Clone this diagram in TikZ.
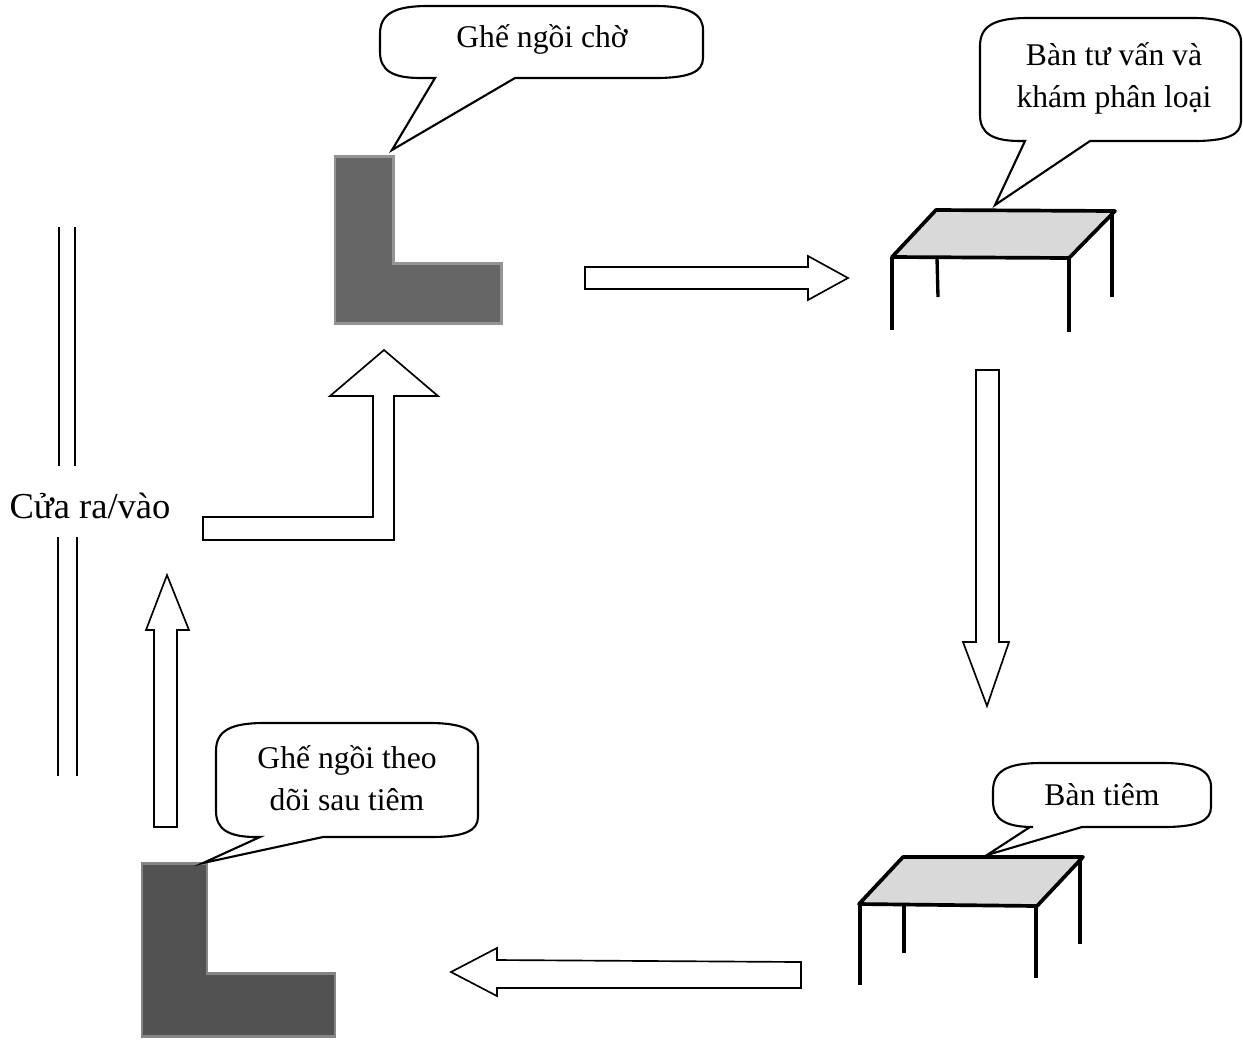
\documentclass[tikz,border=0pt]{standalone}
\usepackage{fontspec}
\setmainfont{Liberation Serif}

% L,T,R,B of the bubble, then left foot, tip x, tip y, right foot
\newcommand{\bubble}[8]{
  \draw[callout] (#1,#2+28) .. controls (#1,#2+8) and (#1+14,#2) .. (#1+48,#2)
    -- (#3-48,#2) .. controls (#3-14,#2) and (#3,#2+8) .. (#3,#2+24)
    -- (#3,#4-20) .. controls (#3,#4-6) and (#3-14,#4) .. (#3-48,#4)
    -- (#8,#4) -- (#6,#7) -- (#5,#4)
    -- (#1+40,#4) .. controls (#1+12,#4) and (#1,#4-8) .. (#1,#4-26) -- cycle;
}

\begin{document}
\begin{tikzpicture}[
  x=0.02cm, y=-0.02cm,
  font=\fontsize{18}{24}\selectfont,
  txt/.style={align=center, inner sep=0pt},
  callout/.style={draw=black, line width=1.2pt, fill=white, line join=miter},
  seat/.style={draw=black!42, line width=1.7pt, fill=black!60},
  seatdark/.style={draw=black!48, line width=1.7pt, fill=black!68},
  top/.style={draw=black, line width=2.1pt, fill=black!15, line join=round},
  leg/.style={draw=black, line width=1.9pt},
  flow/.style={draw=black, line width=0.95pt, fill=white},
  door/.style={draw=black, line width=0.95pt}
]
\useasboundingbox (0,0) rectangle (1243,1046);

% door
\draw[door] (59,227) -- (59,466);
\draw[door] (75,227) -- (75,466);
\draw[door] (58,537) -- (58,776);
\draw[door] (77,537) -- (77,776);
\node[txt, font=\fontsize{20.8}{24}\selectfont] (door) at (90,506) {Cửa ra/vào};

% seats
\draw[seat] (335,156) -- (393,156) -- (393,263) -- (501,263) -- (501,323) -- (335,323) -- cycle;
\draw[seatdark] (142,863) -- (207,863) -- (207,973) -- (335,973) -- (335,1036) -- (142,1036) -- cycle;

% tables
\draw[top] (936,210) -- (1115,211) -- (1069,258) -- (892,257) -- cycle;
\draw[leg] (892,257) -- (892,330);
\draw[leg] (1069,258) -- (1069,332);
\draw[leg] (937,258) -- (938,297);
\draw[leg] (1112,211) -- (1112,297);

\draw[top] (903,857) -- (1083,857) -- (1037,906) -- (859,904) -- cycle;
\draw[leg] (860,904) -- (860,985);
\draw[leg] (1036,906) -- (1036,978);
\draw[leg] (904,905) -- (904,953);
\draw[leg] (1080,857) -- (1080,944);

% callouts
\bubble{380}{6}{703}{78}{435}{392}{150}{515}
\bubble{980}{18}{1241}{141}{1025}{995}{205}{1090}
\bubble{216}{723}{478}{837}{260}{203}{863}{323}
\bubble{993}{763}{1211}{827}{1030}{987}{855}{1082}

\node[txt] (waiting) at (542,39) {Ghế ngồi chờ};
\node[txt] (consult) at (1114,78) {Bàn tư vấn và\\khám phân loại};
\node[txt] (observe) at (347,778) {Ghế ngồi theo\\dõi sau tiêm};
\node[txt] (inject) at (1102,795) {Bàn tiêm};

% flow arrows
\draw[flow] (203,517) -- (373,517) -- (373,396) -- (330,396) -- (384,350) -- (438,396) -- (394,396) -- (394,540) -- (203,540) -- cycle;
\draw[flow] (585,267) -- (808,267) -- (808,256) -- (848,278) -- (808,300) -- (808,289) -- (585,289) -- cycle;
\draw[flow] (976,370) -- (999,370) -- (999,642) -- (1009,642) -- (987,706) -- (963,642) -- (976,642) -- cycle;
\draw[flow] (801,962) -- (497,960) -- (497,948) -- (451,972) -- (497,996) -- (497,988) -- (801,988) -- cycle;
\draw[flow] (154,827) -- (154,630) -- (146,630) -- (167,575) -- (189,630) -- (177,630) -- (177,827) -- cycle;

\end{tikzpicture}
\end{document}
